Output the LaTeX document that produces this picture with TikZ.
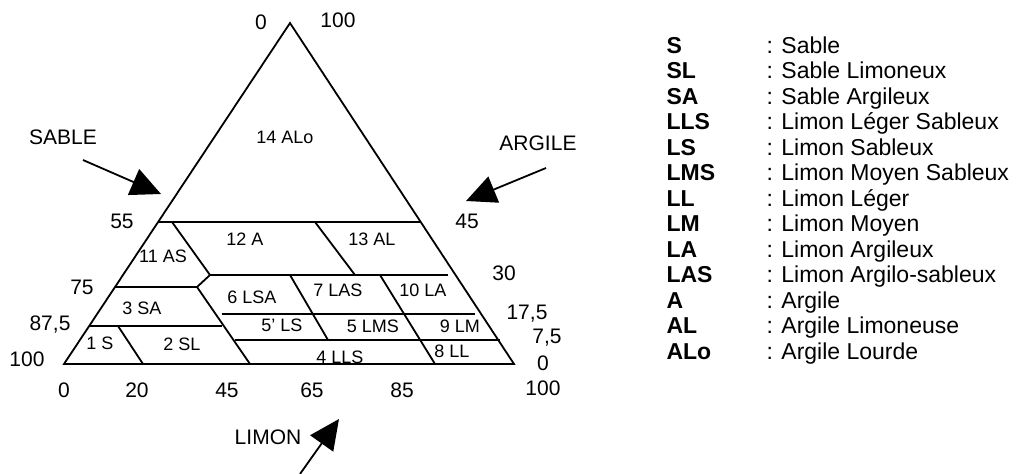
\documentclass[tikz,border=0pt]{standalone}
\usepackage{fontspec}
\setmainfont{Liberation Sans}
\usetikzlibrary{arrows.meta}

\begin{document}
\begin{tikzpicture}[x=1pt,y=-1pt,
    zone/.style={font=\fontsize{18}{20}\selectfont},
    axlab/.style={font=\fontsize{21}{24}\selectfont},
    legab/.style={anchor=base west,font=\fontsize{23}{25}\selectfont\bfseries},
    legtx/.style={anchor=base west,font=\fontsize{23}{25}\selectfont},
    edge/.style={line width=1.8pt},
    bigarrow/.style={line width=1.8pt,-{Triangle[length=30pt,width=28pt]}}]
  \useasboundingbox (0,0) rectangle (1021,474);

  % Triangle
  \coordinate (apex) at (290,23);
  \coordinate (bl) at (64,364);
  \coordinate (br) at (514,364);
  \draw[edge, line join=miter] (apex) -- (bl) -- (br) -- cycle;

  % Class boundaries
  \draw[edge] (158,222) -- (420,222);
  \draw[edge] (172,222) -- (210,275) -- (197,287);
  \draw[edge] (115,287) -- (197,287) -- (250,364);
  \draw[edge] (210,275) -- (448,275);
  \draw[edge] (315,222) -- (355,275);
  \draw[edge] (222,314) -- (475,314);
  \draw[edge] (89,326) -- (222,326);
  \draw[edge] (235,340) -- (500,340);
  \draw[edge] (118,326) -- (143,364);
  \draw[edge] (290,275) -- (328,340);
  \draw[edge] (380,275) -- (435,364);

  % Class names
  \foreach \x/\y/\t [count=\i] in {285/137/14 ALo, 245/239/12 A, 372/239/13 AL,
      163/256/11 AS, 142/308/3 SA, 252/297/6 LSA, 338/290/7 LAS, 423/290/10 LA,
      282/325/5' LS, 373/326/5 LMS, 460/326/9 LM, 452/351/8 LL, 100/343/1 S,
      182/344/2 SL, 340/357/4 LLS}
    \node[zone] (zone\i) at (\x,\y) {\t};

  % Scales
  \foreach \x/\y/\t [count=\i] in {122/221/55, 82/287/75, 50/325/{87,5}, 27/359/100}
    \node[axlab] (sab\i) at (\x,\y) {\t};
  \foreach \x/\y/\t [count=\i] in {64/390/0, 137/390/20, 227/390/45, 312/390/65,
      402/390/85, 543/388/100}
    \node[axlab] (lim\i) at (\x,\y) {\t};
  \foreach \x/\y/\t [count=\i] in {338/20/100, 467/221/45, 504/273/30,
      527/314/{17,5}, 547/338/{7,5}, 543/363/0}
    \node[axlab] (arg\i) at (\x,\y) {\t};
  \node[axlab] (top0) at (261,22) {0};

  % Axis names and arrows
  \node[axlab] (sable) at (63,137) {SABLE};
  \node[axlab] (argile) at (538,143) {ARGILE};
  \node[axlab] (limon) at (268,437) {LIMON};
  \coordinate (sabT) at (83,160);  \coordinate (sabH) at (161,194);
  \coordinate (argT) at (546,168); \coordinate (argH) at (466,201);
  \coordinate (limT) at (300,474); \coordinate (limH) at (339,419);
  \draw[bigarrow] (sabT) -- (sabH);
  \draw[bigarrow] (argT) -- (argH);
  \draw[bigarrow] (limT) -- (limH);

  % Legend
  \foreach \ab/\txt [count=\i from 0] in {S/Sable, SL/Sable Limoneux,
      SA/Sable Argileux, LLS/Limon Léger Sableux, LS/Limon Sableux,
      LMS/Limon Moyen Sableux, LL/Limon Léger, LM/Limon Moyen,
      LA/Limon Argileux, LAS/Limon Argilo-sableux, A/Argile,
      AL/Argile Limoneuse, ALo/Argile Lourde} {
    \node[legab] (ab\i) at (663,53+25.5*\i) {\ab};
    \node[legtx] (tx\i) at (763,53+25.5*\i) {: \txt};
  }
\end{tikzpicture}
\end{document}
